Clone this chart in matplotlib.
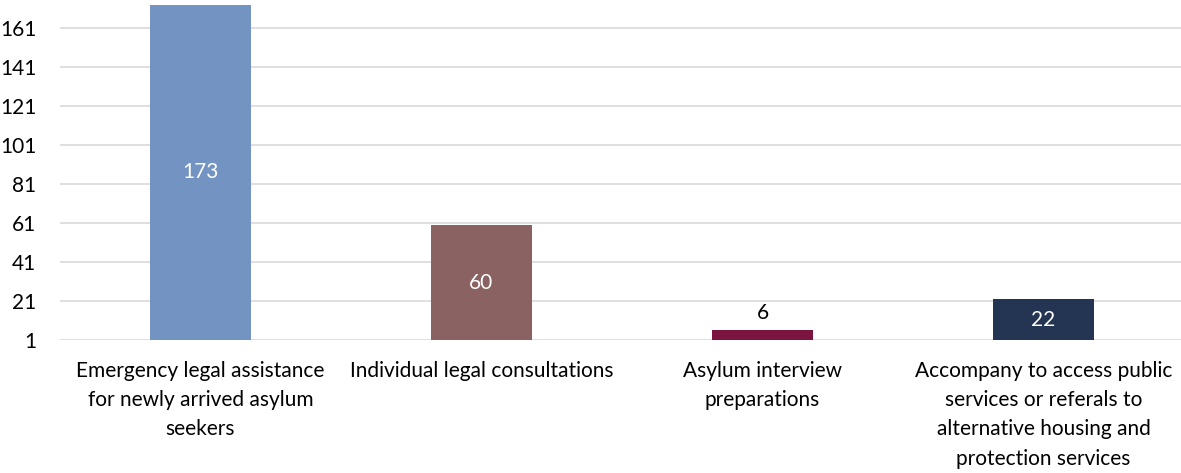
import matplotlib
matplotlib.use("Agg")
import matplotlib.pyplot as plt

categories = [
    "Emergency legal assistance\nfor newly arrived asylum\nseekers",
    "Individual legal consultations",
    "Asylum interview\npreparations",
    "Accompany to access public\nservices or referals to\nalternative housing and\nprotection services",
]
values = [173, 60, 6, 22]
colors = ["#7393C3", "#8B6262", "#7B1540", "#243453"]
yticks = [1, 21, 41, 61, 81, 101, 121, 141, 161]
baseline = 1

plt.rcParams["font.family"] = ["Lato", "DejaVu Sans"]
FS = 15

fig = plt.figure(figsize=(11.81, 4.73), dpi=100)
ax = fig.add_axes([60 / 1181, 1 - 340 / 473, 1124 / 1181, 340 / 473])

x = list(range(len(values)))
heights = [v - baseline for v in values]
ax.bar(x, heights, bottom=baseline, width=0.356, color=colors, zorder=2)

ax.set_xlim(-0.5, len(values) - 0.5)
ax.set_ylim(baseline, 175.5)
ax.set_yticks(yticks)
ax.set_yticklabels([str(t) for t in yticks], fontsize=FS, color="#000000")
ax.yaxis.grid(True, color="#D9D9D9", linewidth=1.2, zorder=0)
ax.set_axisbelow(True)
ax.tick_params(axis="y", length=0, pad=17)
ax.tick_params(axis="x", length=0, pad=15)
ax.set_xticks(x)
ax.set_xticklabels(categories, fontsize=FS, linespacing=1.58, va="top")
for s in ax.spines.values():
    s.set_visible(False)

for xi, v in zip(x, values):
    if v < 10:
        ax.annotate(str(v), (xi, v), xytext=(0, 5), textcoords="offset points",
                    ha="center", va="bottom", fontsize=FS, color="#000000")
    else:
        ax.text(xi, (v + baseline) / 2, str(v), ha="center", va="center",
                fontsize=FS, color="white")

fig.savefig("out.png", dpi=100)
